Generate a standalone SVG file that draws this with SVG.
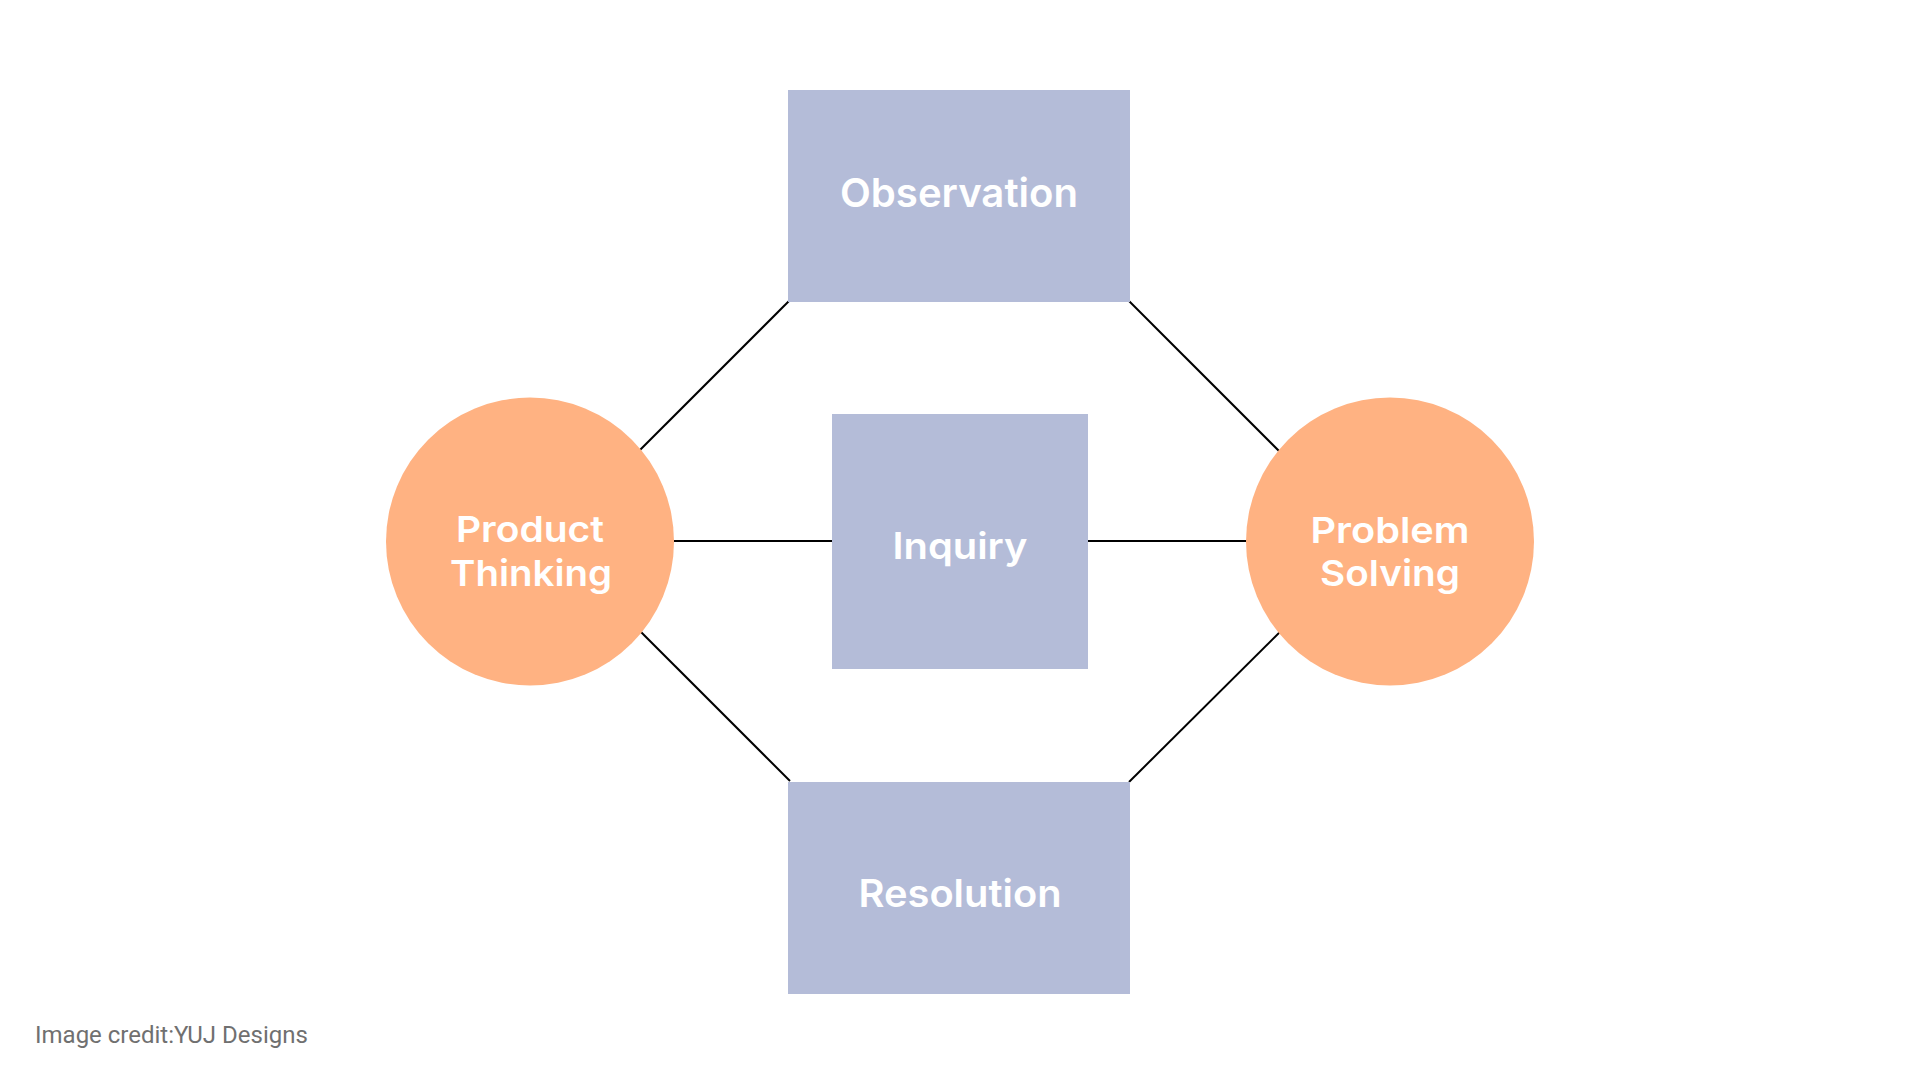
<svg xmlns="http://www.w3.org/2000/svg" width="1920" height="1084" viewBox="0 0 1920 1084">
<style>
.box{fill:#B4BCD8}
.circ{fill:#FFB282}
.lbl{font-family:Inter,"Open Sans","Liberation Sans",sans-serif;font-weight:600;font-size:40px;fill:#FFFFFF;text-anchor:middle}
.sm{font-size:36px}
.conn line{stroke:#000000;stroke-width:2}
.credit{font-family:Roboto,"Liberation Sans",sans-serif;font-size:24px;fill:#707070}
</style>
<rect width="1920" height="1084" fill="#FFFFFF"/>
<g class="conn" id="connectors">
<line x1="620" y1="470" x2="789" y2="301"/>
<line x1="620" y1="611" x2="790" y2="781"/>
<line x1="674" y1="541" x2="833" y2="541"/>
<line x1="1087" y1="541" x2="1247" y2="541"/>
<line x1="1129" y1="301" x2="1300" y2="472"/>
<line x1="1300" y1="612" x2="1129" y2="782"/>
</g>
<g id="observation">
<rect class="box" x="788" y="90" width="342" height="212"/>
<text class="lbl" x="959" y="207" textLength="238" lengthAdjust="spacingAndGlyphs">Observation</text>
</g>
<g id="inquiry">
<rect class="box" x="832" y="414" width="256" height="255"/>
<text class="lbl" x="960" y="559" style="font-size:37px" textLength="135" lengthAdjust="spacingAndGlyphs">Inquiry</text>
</g>
<g id="resolution">
<rect class="box" x="788" y="782" width="342" height="212"/>
<text class="lbl" x="960" y="907" style="font-size:38px" textLength="203" lengthAdjust="spacingAndGlyphs">Resolution</text>
</g>
<g id="product-thinking">
<circle class="circ" cx="530" cy="541.5" r="144"/>
<text class="lbl sm" x="530" y="542" textLength="148" lengthAdjust="spacingAndGlyphs">Product</text>
<text class="lbl sm" x="531" y="586" textLength="162" lengthAdjust="spacingAndGlyphs">Thinking</text>
</g>
<g id="problem-solving">
<circle class="circ" cx="1390" cy="541.5" r="144"/>
<text class="lbl sm" x="1390" y="543" textLength="159" lengthAdjust="spacingAndGlyphs">Problem</text>
<text class="lbl sm" x="1390" y="586" textLength="140" lengthAdjust="spacingAndGlyphs">Solving</text>
</g>
<text class="credit" x="35" y="1043">Image credit:YUJ Designs</text>
</svg>
